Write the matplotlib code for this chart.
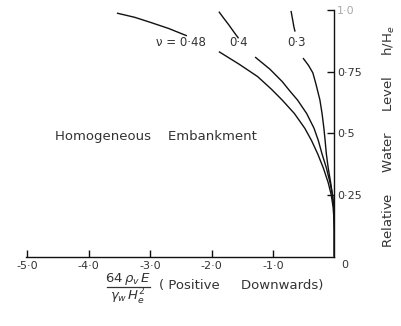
import numpy as np
import matplotlib
matplotlib.use("Agg")
import matplotlib.pyplot as plt
from matplotlib.lines import Line2D

# ── data ──────────────────────────────────────────────────────
poisson = ["0·48", "0·4", "0·3"]

# upper pieces (above the label gap)
upper_x = [[-3.54, -3.25, -3.0, -2.70, -2.40],
           [-1.88, -1.80, -1.72, -1.64, -1.56],
           [-0.705, -0.69, -0.675, -0.66, -0.64]]
upper_y = [[0.987, 0.970, 0.950, 0.925, 0.895],
           [0.993, 0.966, 0.940, 0.912, 0.885],
           [0.996, 0.975, 0.955, 0.933, 0.912]]

# lower pieces (below the label gap)
lower_x = [[-1.88, -1.55, -1.25, -1.03, -0.85, -0.65, -0.48, -0.37, -0.27, -0.18,
            -0.10, -0.05, -0.02, -0.005, 0.0, 0.0],
           [-1.29, -1.05, -0.85, -0.72, -0.60, -0.45, -0.33, -0.26, -0.20, -0.13,
            -0.07, -0.03, -0.01, 0.0, 0.0],
           [-0.51, -0.42, -0.35, -0.30, -0.235, -0.20, -0.17, -0.15, -0.13, -0.10,
            -0.06, -0.03, -0.01, 0.0, 0.0]]
lower_y = [[0.831, 0.780, 0.730, 0.680, 0.635, 0.580, 0.520, 0.470, 0.416, 0.360,
            0.300, 0.250, 0.200, 0.150, 0.100, 0.0],
           [0.809, 0.760, 0.710, 0.670, 0.635, 0.580, 0.520, 0.470, 0.416, 0.360,
            0.300, 0.250, 0.200, 0.120, 0.0],
           [0.805, 0.775, 0.745, 0.700, 0.635, 0.580, 0.520, 0.470, 0.416, 0.360,
            0.300, 0.250, 0.200, 0.120, 0.0]]

xticks = [-5, -4, -3, -2, -1]
xtick_labels = ["-5·0", "-4·0", "-3·0", "-2·0", "-1·0"]
yticks = [0.25, 0.5, 0.75, 1.0]
ytick_labels = ["0·25", "0·5", "0·75", "1·0"]

# ── figure ────────────────────────────────────────────────────
fig = plt.figure(figsize=(4.02, 3.26), dpi=100, facecolor="white")
ax = fig.add_axes([0.0647, 0.2126, 0.767, 0.757])

ink = "#111111"
txt = "#333333"
for ux, uy, lx, ly in zip(upper_x, upper_y, lower_x, lower_y):
    ax.plot(ux, uy, color=ink, lw=1.0, solid_capstyle="butt")
    ax.plot(lx, ly, color=ink, lw=1.0, solid_capstyle="butt")

# curve labels in the gaps
lab_kw = dict(fontsize=8.5, color=txt, va="center", ha="center")
ax.text(-2.50, 0.866, "ν = " + poisson[0], **lab_kw)
ax.text(-1.56, 0.866, poisson[1], **lab_kw)
ax.text(-0.62, 0.866, poisson[2], **lab_kw)

ax.text(-2.91, 0.489, "Homogeneous    Embankment", fontsize=9.5,
        color=txt, ha="center", va="center")

ax.set_xlim(-5.02, 0)
ax.set_ylim(0, 1.0)

# only bottom and right axes
ax.spines["top"].set_visible(False)
ax.spines["left"].set_visible(False)
for sp in ("bottom", "right"):
    ax.spines[sp].set_linewidth(1.0)
    ax.spines[sp].set_color(ink)

ax.set_xticks(xticks)
ax.set_xticklabels(xtick_labels)
ax.set_yticks(yticks)
ax.set_yticklabels(ytick_labels)
ax.yaxis.tick_right()
ax.tick_params(axis="x", direction="in", length=5, width=1.0, colors=ink,
               labelsize=8, labelcolor=txt, pad=3)
ax.tick_params(axis="y", direction="in", length=5, width=1.0, colors=ink,
               labelsize=8, labelcolor=txt, pad=2)
ax.get_yticklabels()[-1].set_color("#aaaaaa")

# "0" at the corner, a little to the right of the axis
ax.text(0.17, -0.035, "0", fontsize=8, color=txt,
        ha="center", va="center", clip_on=False)

# y label on the far right
fig.text(0.968, 0.58, "Relative     Water     Level     h/H$_e$", rotation=90,
         fontsize=9.5, color=txt, ha="center", va="center")

# x label: fraction built from two lines plus a bar, then the note
fig.text(0.318, 1 - 279 / 326, r"$64\,\rho_v\,E$", fontsize=9.5,
         color=txt, ha="center", va="center")
fig.text(0.318, 1 - 297 / 326, r"$\gamma_w\,H_e^2$", fontsize=9.5,
         color=txt, ha="center", va="center")
fig.add_artist(Line2D([0.265, 0.372], [1 - 287 / 326, 1 - 287 / 326],
                      transform=fig.transFigure, color=txt, lw=0.9))
fig.text(0.60, 1 - 285 / 326, "( Positive     Downwards)", fontsize=9.5,
         color=txt, ha="center", va="center")

fig.savefig("out.png", dpi=100, facecolor="white")
